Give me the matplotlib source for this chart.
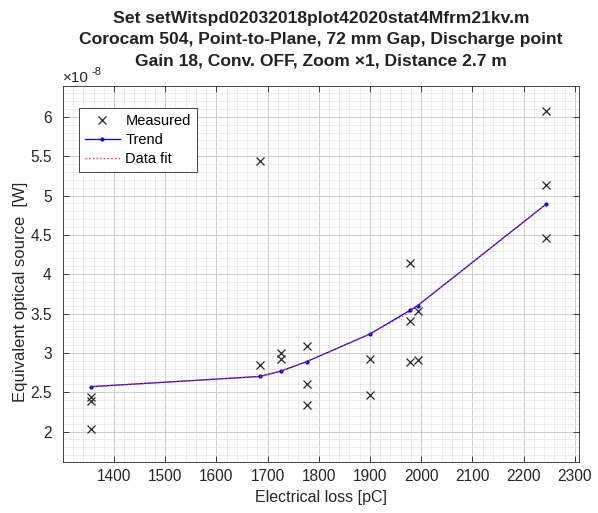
import matplotlib.pyplot as plt
import matplotlib.transforms as mtransforms
import numpy as np
from matplotlib.ticker import MultipleLocator, FuncFormatter

plt.rcParams['font.family'] = ['Liberation Sans', 'DejaVu Sans']

# measured points (units of 1e-8 W)
meas_x = [1355, 1355, 1355, 1685, 1685, 1727, 1727, 1777, 1777, 1777,
          1900, 1900, 1978, 1978, 1978, 1993, 1993, 2244, 2244, 2244]
meas_y = [2.44, 2.39, 2.03, 2.84, 5.44, 3.00, 2.92, 3.09, 2.60, 2.34,
          2.92, 2.46, 4.14, 3.40, 2.89, 3.53, 2.91, 6.08, 5.14, 4.46]

# trend / fit evaluated at each loss level
trend_x = [1355, 1685, 1727, 1777, 1900, 1978, 1993, 2244]
trend_y = [2.57, 2.70, 2.77, 2.89, 3.24, 3.54, 3.60, 4.89]
fit_y = [2.57, 2.70, 2.77, 2.89, 3.24, 3.52, 3.60, 4.89]

xticks = [1400, 1500, 1600, 1700, 1800, 1900, 2000, 2100, 2200, 2300]
yticks = [2, 2.5, 3, 3.5, 4, 4.5, 5, 5.5, 6]

fig = plt.figure(figsize=(5.98, 5.13), dpi=100)
ax = fig.add_axes([0.105, 0.099, 0.863, 0.733])

ax.plot(meas_x, meas_y, 'x', color='#262626', markersize=5.3, markeredgewidth=0.9, label='Measured')
ax.plot(trend_x, trend_y, '-', marker='.', markersize=4, color='#0000ff', linewidth=0.9, label='Trend')
ax.plot(trend_x, fit_y, ':', color='#ff3030', linewidth=1.0, label='Data fit')

ax.set_xlim(1300, 2308)
ax.set_ylim(1.61, 6.39)
ax.set_xticks(xticks)
ax.set_yticks(yticks)
ax.yaxis.set_major_formatter(FuncFormatter(lambda v, p: '%g' % v))
ax.xaxis.set_minor_locator(MultipleLocator(20))
ax.yaxis.set_minor_locator(MultipleLocator(0.1))
ax.grid(which='major', color='#cccccc', linewidth=0.7)
ax.grid(which='minor', color='#e4e4e4', linewidth=0.5)
ax.set_axisbelow(True)
ax.tick_params(which='major', direction='in', top=True, right=True, length=4,
               labelsize=11.2, colors='#262626', width=0.6)
ax.tick_params(axis='y', pad=8)
ax.tick_params(axis='x', pad=5)
ax.tick_params(which='minor', length=0)
for s in ax.spines.values():
    s.set_color('#262626')
    s.set_linewidth(0.6)

ax.set_xlabel('Electrical loss [pC]', fontsize=11.5, color='#262626')
ax.set_ylabel('Equivalent optical source  [W]', fontsize=12, color='#262626')
ax.yaxis.set_label_coords(-0.068, 0.452)

# x10^-8 exponent label
ax.text(0.0, 1.003, '\u00d710', transform=ax.transAxes, fontsize=11,
        color='#262626', ha='left', va='bottom')
sup = mtransforms.offset_copy(ax.transAxes, fig=fig, x=21, y=5.5, units='points')
ax.text(0.0, 1.003, '-8', transform=sup, fontsize=8, color='#262626', ha='left', va='bottom')

ax.set_title('Set setWitspd02032018plot42020stat4Mfrm21kv.m\n'
             'Corocam 504, Point-to-Plane, 72 mm Gap, Discharge point\n'
             'Gain 18, Conv. OFF, Zoom \u00d71, Distance 2.7 m',
             fontsize=12.6, fontweight='bold', color='#222222', pad=15, linespacing=1.5)

leg = ax.legend(loc='upper left', bbox_to_anchor=(0.031, 0.941), borderaxespad=0,
                fontsize=10.5, fancybox=False, edgecolor='#262626', framealpha=1,
                handlelength=2.45, handletextpad=0.35, borderpad=0.4, labelspacing=0.35)
leg.get_frame().set_linewidth(0.6)

fig.savefig('out.png', dpi=100)
